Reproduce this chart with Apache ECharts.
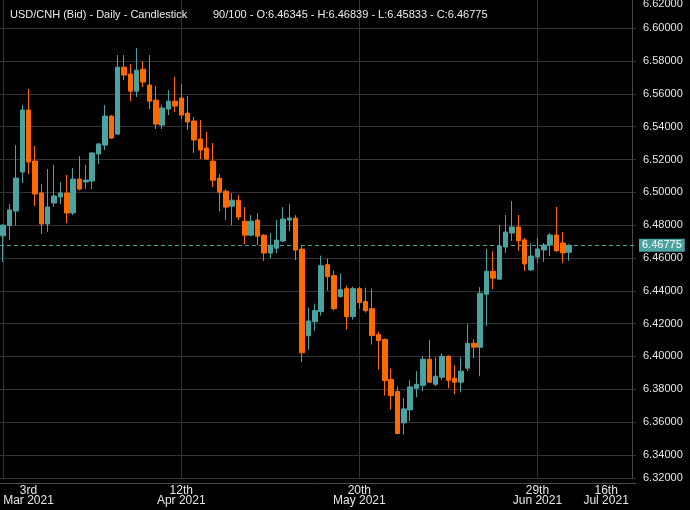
<!DOCTYPE html>
<html><head><meta charset="utf-8">
<script src="https://cdn.jsdelivr.net/npm/echarts@6/dist/echarts.min.js"></script>
<style>html,body{margin:0;padding:0;background:#000}#c{width:690px;height:510px}</style>
</head><body><div id="c"></div>
<script>
const opens = [6.4735,6.4797,6.4886,6.5124,6.5502,6.5191,6.4996,6.4807,6.4935,6.4972,
6.4996,6.4874,6.5081,6.5063,6.5069,6.5234,6.5288,6.5465,6.5355,6.5763,
6.5721,6.5617,6.5751,6.5654,6.5562,6.5410,6.5508,6.5556,6.5575,6.5483,
6.5435,6.5325,6.5270,6.5190,6.5086,6.5007,6.4916,6.4952,6.4824,6.4739,
6.4831,6.4739,6.4630,6.4660,6.4703,6.4831,6.4843,6.4654,6.4126,6.4212,
6.4273,6.4559,6.4492,6.4365,6.4413,6.4243,6.4413,6.4334,6.4291,6.4133,
6.4103,6.3859,6.3786,6.3595,6.3674,6.3806,6.3824,6.3983,6.3830,6.3873,
6.4001,6.3867,6.3843,6.3928,6.4080,6.4056,6.4379,6.4519,6.4471,6.4667,
6.4752,6.4789,6.4710,6.4527,6.4606,6.4649,6.4679,6.4740,6.4691,6.46345];
const closes = [6.4800,6.4893,6.5087,6.5502,6.5185,6.4990,6.4807,6.4911,6.4978,6.4996,
6.4874,6.5081,6.5020,6.5075,6.5240,6.5295,6.5465,6.5331,6.5763,6.5715,
6.5617,6.5745,6.5672,6.5556,6.5416,6.5514,6.5556,6.5526,6.5471,6.5429,
6.5319,6.5258,6.5203,6.5074,6.5001,6.4910,6.4952,6.4849,6.4739,6.4824,
6.4733,6.4630,6.4678,6.4709,6.4837,6.4843,6.4648,6.4022,6.4216,6.4279,
6.4553,6.4486,6.4291,6.4407,6.4243,6.4413,6.4328,6.4279,6.4127,6.4097,
6.3853,6.3762,6.3530,6.3680,6.3814,6.3830,6.3983,6.3843,6.3879,6.4001,
6.3855,6.3843,6.3910,6.4080,6.4056,6.4385,6.4519,6.4477,6.4672,6.4758,
6.4789,6.4704,6.4564,6.4612,6.4655,6.4679,6.4740,6.4643,6.4631,6.46775];
const lows = [6.4576,6.4710,6.4797,6.5057,6.5112,6.4917,6.4746,6.4759,6.4911,6.4929,
6.4813,6.4862,6.5012,6.5020,6.5020,6.5173,6.5258,6.5325,6.5350,6.5684,
6.5556,6.5581,6.5642,6.5508,6.5386,6.5386,6.5471,6.5489,6.5447,6.5380,
6.5240,6.5203,6.5197,6.5033,6.4885,6.4831,6.4800,6.4831,6.4684,6.4733,
6.4678,6.4581,6.4599,6.4630,6.4697,6.4764,6.4587,6.3966,6.4040,6.4157,
6.4249,6.4401,6.4279,6.4358,6.4164,6.4224,6.4291,6.4267,6.4072,6.3920,
6.3762,6.3676,6.3525,6.3522,6.3605,6.3751,6.3788,6.3840,6.3818,6.3855,
6.3806,6.3769,6.3781,6.3910,6.3989,6.3879,6.4185,6.4410,6.4465,6.4631,
6.4704,6.4643,6.4521,6.4522,6.4570,6.4576,6.4612,6.4640,6.4570,6.45833];
const highs = [6.4805,6.4929,6.5288,6.5532,6.5630,6.5282,6.5051,6.5142,6.5167,6.5063,
6.5106,6.5148,6.5221,6.5167,6.5245,6.5301,6.5532,6.5471,6.5837,6.5837,
6.5782,6.5879,6.5800,6.5837,6.5648,6.5532,6.5623,6.5703,6.5660,6.5587,
6.5459,6.5441,6.5368,6.5300,6.5111,6.5019,6.4995,6.4983,6.4910,6.4861,
6.4873,6.4745,6.4751,6.4831,6.4910,6.4928,6.4861,6.4672,6.4297,6.4322,
6.4614,6.4596,6.4523,6.4505,6.4432,6.4425,6.4425,6.4419,6.4413,6.4151,
6.4109,6.3926,6.3816,6.3747,6.3855,6.3910,6.4001,6.4099,6.3995,6.4019,
6.4007,6.3946,6.3995,6.4196,6.4105,6.4422,6.4654,6.4641,6.4801,6.4862,
6.4947,6.4862,6.4722,6.4691,6.4722,6.4691,6.4752,6.4911,6.4758,6.46839];

const slotCount = 100;
const xTickSlots = [0, 28, 56, 84, 99];
const xTickDays = ['3rd', '12th', '20th', '29th', '16th'];
const xTickMonths = ['Mar 2021', 'Apr 2021', 'May 2021', 'Jun 2021', 'Jul 2021'];
const xGridSlots = [0, 28, 56, 84];
const yMin = 6.32588, yMax = 6.61725;
const yEdgeLabels = ['6.32000', '6.62000'];
const titleMain = 'USD/CNH (Bid) - Daily - Candlestick';

const UP = '#4ba3a1', DOWN = '#ff6a00';
const FONT = '"Liberation Sans", Arial, sans-serif';

const n = opens.length, last = n - 1;
const lastClose = closes[last];
const titleInfo = n + '/' + slotCount + ' - O:' + opens[last].toFixed(5) + ' - H:' + highs[last].toFixed(5) +
  ' - L:' + lows[last].toFixed(5) + ' - C:' + closes[last].toFixed(5);

const categories = [];
for (let i = 0; i < slotCount; i++) {
  const item = { value: String(i) };
  if (i === xTickSlots[0]) item.textStyle = { align: 'left' };
  if (i === xTickSlots[xTickSlots.length - 1]) item.textStyle = { align: 'right', padding: [0, 4, 0, 0] };
  categories.push(item);
}
const candleData = opens.map((o, i) => [o, closes[i], lows[i], highs[i]]);

const chart = echarts.init(document.getElementById('c'), null, { renderer: 'canvas' });
chart.setOption({
  animation: false,
  backgroundColor: '#000000',
  textStyle: { fontFamily: FONT },
  title: [
    { text: titleMain, left: 10, top: 9, padding: 0,
      textStyle: { color: '#ececec', fontSize: 11, fontWeight: 'normal', fontFamily: FONT } },
    { text: titleInfo, left: 213, top: 9, padding: 0,
      textStyle: { color: '#ececec', fontSize: 11, fontWeight: 'normal', fontFamily: FONT } }
  ],
  grid: { left: 0, top: 0, right: 54, bottom: 32, outerBoundsMode: 'none', containLabel: false },
  xAxis: {
    type: 'category',
    data: categories,
    boundaryGap: true,
    offset: 5,
    axisLine: { show: true, lineStyle: { color: '#4a4a4a', width: 1 } },
    axisTick: { show: false },
    splitLine: { show: false },
    axisLabel: {
      show: true,
      interval: (index) => xTickSlots.indexOf(index) >= 0,
      margin: 3,
      color: '#e6e6e6',
      fontSize: 12,
      fontFamily: FONT,
      lineHeight: 10,
      formatter: (value, index) => {
        const k = xTickSlots.indexOf(Number(value));
        if (k < 0) return '';
        return '{d|' + xTickDays[k] + '}\n{d|' + xTickMonths[k] + '}';
      },
      rich: { d: { align: 'center', fontSize: 12, lineHeight: 10, color: '#e6e6e6', fontFamily: FONT } }
    }
  },
  yAxis: {
    type: 'value',
    position: 'right',
    offset: -4,
    min: yMin,
    max: yMax,
    splitNumber: 14,
    scale: true,
    axisLine: { show: true, lineStyle: { color: '#4a4a4a', width: 1 } },
    axisTick: { show: false },
    splitLine: { show: true, showMaxLine: false, lineStyle: { color: '#333333', width: 1 } },
    axisLabel: {
      show: true,
      showMinLabel: true,
      showMaxLabel: true,
      margin: 11,
      color: '#e6e6e6',
      fontSize: 11,
      fontFamily: FONT,
      formatter: (v) => {
        if (v <= yMin + 1e-6) return yEdgeLabels[0];
        if (v >= yMax - 1e-6) return '{t|' + yEdgeLabels[1] + '}';
        return v.toFixed(5);
      },
      rich: { t: { padding: [8, 0, 0, 0], fontSize: 11, color: '#e6e6e6', fontFamily: FONT } }
    }
  },
  series: [{
    type: 'candlestick',
    data: candleData,
    barWidth: 5,
    z: 3,
    itemStyle: {
      color: UP, color0: DOWN,
      borderColor: UP, borderColor0: DOWN,
      borderWidth: 1
    },
    markLine: {
      z: 1,
      silent: true,
      symbol: ['none', 'none'],
      precision: 5,
      data: [
        ...xGridSlots.map(s => ({
          xAxis: String(s),
          lineStyle: { color: '#333333', width: 1, type: 'solid' },
          label: { show: false }
        })),
        {
          yAxis: lastClose,
          lineStyle: { color: UP, width: 1, type: [4, 3] },
          label: {
            show: true, position: 'end', distance: 3,
            formatter: lastClose.toFixed(5),
            color: '#ffffff', backgroundColor: UP,
            padding: [1, 3, 1, 3], fontSize: 11, fontFamily: FONT
          }
        }
      ]
    }
  }]
});
</script></body></html>
